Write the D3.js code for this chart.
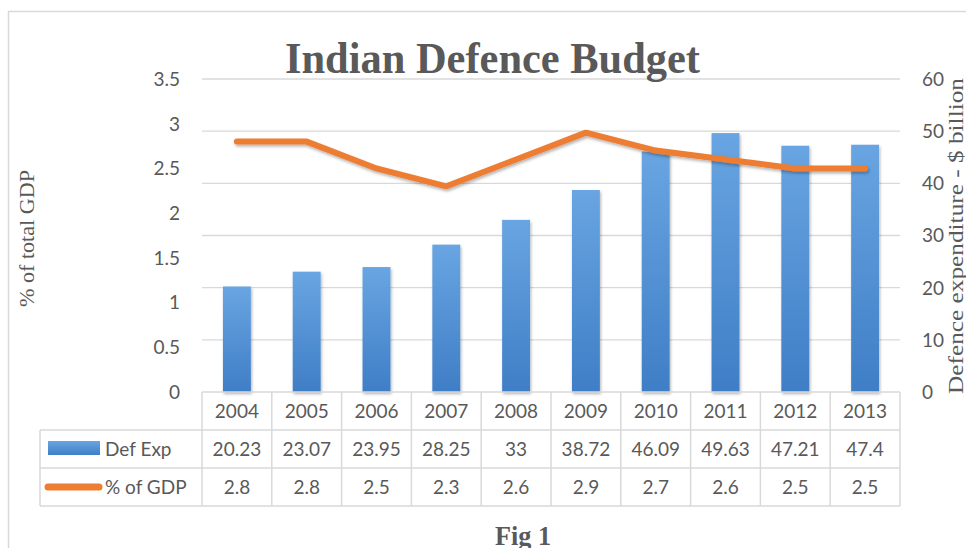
<!DOCTYPE html>
<html>
<head>
<meta charset="utf-8">
<script src="https://cdn.jsdelivr.net/npm/d3@7"></script>
<style>
  html, body { margin: 0; padding: 0; background: #fff; }
  svg { display: block; }
</style>
</head>
<body>
<svg id="chart" width="966" height="548"></svg>
<script>
const years = ["2004","2005","2006","2007","2008","2009","2010","2011","2012","2013"];
const defExp = [20.23, 23.07, 23.95, 28.25, 33, 38.72, 46.09, 49.63, 47.21, 47.4];
const gdpPct = [2.8, 2.8, 2.5, 2.3, 2.6, 2.9, 2.7, 2.6, 2.5, 2.5];
const defExpLabels = ["20.23","23.07","23.95","28.25","33","38.72","46.09","49.63","47.21","47.4"];
const gdpLabels = ["2.8","2.8","2.5","2.3","2.6","2.9","2.7","2.6","2.5","2.5"];
const leftTicks = [0, 0.5, 1, 1.5, 2, 2.5, 3, 3.5];
const rightTicks = [0, 10, 20, 30, 40, 50, 60];
const seriesNames = ["Def Exp", "% of GDP"];
const titleText = "Indian Defence Budget";
const leftTitle = "% of total GDP";
const rightTitle = "Defence expenditure - $ billion";
const figText = "Fig 1";

const svg = d3.select("#chart");
const textColor = "#595959";
const gridColor = "#d9d9d9";
const sansFont = "Lato, 'Open Sans', sans-serif";
const serifFont = "'Liberation Serif', 'Times New Roman', serif";

const plotL = 202, plotR = 900, plotT = 79, plotB = 392;
const rowH = 38;
const tableL = 40;

const x = d3.scaleBand().domain(years).range([plotL, plotR]).paddingInner(0).paddingOuter(0);
const yR = d3.scaleLinear().domain([0, 60]).range([plotB, plotT]);
const yL = d3.scaleLinear().domain([0, 3.5]).range([plotB, plotT]);

const defs = svg.append("defs");
const grad = defs.append("linearGradient").attr("id", "barGrad").attr("x1", 0).attr("y1", 0).attr("x2", 0).attr("y2", 1);
grad.append("stop").attr("offset", "0%").attr("stop-color", "#69a5e2");
grad.append("stop").attr("offset", "100%").attr("stop-color", "#3f7ec6");
const shadow = defs.append("filter").attr("id", "shadow").attr("x", "-20%").attr("y", "-20%").attr("width", "140%").attr("height", "140%");
shadow.append("feDropShadow").attr("dx", 1).attr("dy", 2).attr("stdDeviation", 1.5).attr("flood-color", "#000").attr("flood-opacity", 0.3);

// outer border
svg.append("rect").attr("x", 8.5).attr("y", 11.5).attr("width", 980).attr("height", 560)
  .attr("fill", "none").attr("stroke", gridColor).attr("stroke-width", 1.5);

// gridlines (right axis)
svg.append("g").selectAll("line").data(rightTicks.filter(d => d > 0)).join("line")
  .attr("x1", plotL).attr("x2", plotR)
  .attr("y1", d => yR(d)).attr("y2", d => yR(d))
  .attr("stroke", gridColor).attr("stroke-width", 1.3);

// bars
svg.append("g").selectAll("rect").data(years).join("rect")
  .attr("x", (d) => x(d) + x.bandwidth() * 0.3)
  .attr("width", x.bandwidth() * 0.4)
  .attr("y", (d, i) => yR(defExp[i]))
  .attr("height", (d, i) => plotB - yR(defExp[i]))
  .attr("fill", "url(#barGrad)")
  .attr("filter", "url(#shadow)");

// line
const line = d3.line().x((d, i) => x(years[i]) + x.bandwidth() / 2).y(d => yL(d));
svg.append("path").datum(gdpPct).attr("d", line)
  .attr("fill", "none").attr("stroke", "#ed7d31").attr("stroke-width", 6)
  .attr("stroke-linecap", "round").attr("stroke-linejoin", "round")
  .attr("filter", "url(#shadow)");

// left axis labels
const fmtL = d => (d === 0 ? "0" : String(d));
svg.append("g").selectAll("text").data(leftTicks).join("text")
  .attr("x", 180).attr("y", d => yL(d))
  .attr("dy", "0.36em").attr("text-anchor", "end")
  .attr("font-family", sansFont).attr("font-size", 19).attr("fill", textColor)
  .text(fmtL);

// right axis labels
svg.append("g").selectAll("text").data(rightTicks).join("text")
  .attr("x", 922).attr("y", d => yR(d))
  .attr("dy", "0.36em").attr("text-anchor", "start")
  .attr("font-family", sansFont).attr("font-size", 19).attr("fill", textColor)
  .text(d => String(d));

// title
svg.append("text").attr("x", 492.5).attr("y", 72.5).attr("text-anchor", "middle")
  .attr("font-family", serifFont).attr("font-weight", "bold").attr("font-size", 44)
  .attr("textLength", 415).attr("lengthAdjust", "spacingAndGlyphs")
  .attr("fill", textColor).text(titleText);

// axis titles
svg.append("text").attr("transform", "translate(34,238.5) rotate(-90)")
  .attr("text-anchor", "middle").attr("font-family", serifFont).attr("font-size", 21)
  .attr("textLength", 137).attr("lengthAdjust", "spacingAndGlyphs")
  .attr("fill", textColor).text(leftTitle);
svg.append("text").attr("transform", "translate(963,236) rotate(-90)")
  .attr("text-anchor", "middle").attr("font-family", serifFont).attr("font-size", 21)
  .attr("textLength", 316).attr("lengthAdjust", "spacingAndGlyphs")
  .attr("fill", textColor).text(rightTitle);

// table
const tg = svg.append("g");
const tb = plotB + rowH * 3;
tg.append("line").attr("x1", plotL).attr("x2", plotR).attr("y1", plotB).attr("y2", plotB);
[1, 2, 3].forEach(k => {
  tg.append("line").attr("x1", tableL).attr("x2", plotR).attr("y1", plotB + rowH * k).attr("y2", plotB + rowH * k);
});
tg.append("line").attr("x1", tableL).attr("x2", tableL).attr("y1", plotB + rowH).attr("y2", tb);
years.forEach(yv => {
  tg.append("line").attr("x1", x(yv)).attr("x2", x(yv)).attr("y1", plotB).attr("y2", tb);
});
tg.append("line").attr("x1", plotR).attr("x2", plotR).attr("y1", plotB).attr("y2", tb);
tg.selectAll("line").attr("stroke", gridColor).attr("stroke-width", 1.5);

const rowsText = [years, defExpLabels, gdpLabels];
rowsText.forEach((row, r) => {
  tg.append("g").selectAll("text").data(row).join("text")
    .attr("x", (d, i) => x(years[i]) + x.bandwidth() / 2)
    .attr("y", plotB + rowH * r + rowH / 2)
    .attr("dy", "0.36em").attr("text-anchor", "middle")
    .attr("font-family", sansFont).attr("font-size", 19).attr("fill", textColor)
    .text(d => d);
});

// legend keys
tg.append("rect").attr("x", 48).attr("y", plotB + rowH + 11).attr("width", 52).attr("height", 14)
  .attr("fill", "url(#barGrad)");
tg.append("line").attr("x1", 48).attr("x2", 99).attr("y1", plotB + rowH * 2.5).attr("y2", plotB + rowH * 2.5)
  .attr("stroke", "#ed7d31").attr("stroke-width", 7).attr("stroke-linecap", "round");
seriesNames.forEach((nm, k) => {
  tg.append("text").attr("x", 105).attr("y", plotB + rowH * (k + 1) + rowH / 2)
    .attr("dy", "0.36em").attr("font-family", sansFont).attr("font-size", 19).attr("fill", textColor)
    .text(nm);
});

// fig label
svg.append("text").attr("x", 523).attr("y", 545).attr("text-anchor", "middle")
  .attr("font-family", serifFont).attr("font-weight", "bold").attr("font-size", 27)
  .attr("textLength", 56).attr("lengthAdjust", "spacingAndGlyphs")
  .attr("fill", textColor).text(figText);
</script>
</body>
</html>
